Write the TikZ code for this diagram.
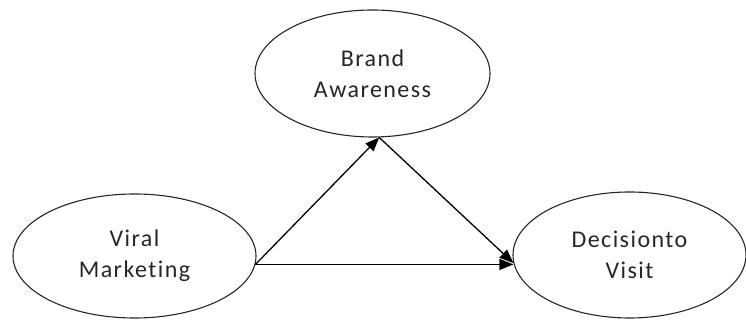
\documentclass[tikz,border=0pt]{standalone}
\usepackage{fontspec}
\setmainfont[Ligatures=NoCommon,LetterSpace=6]{Carlito}
\usetikzlibrary{shapes.geometric,arrows.meta}
\begin{document}
\begin{tikzpicture}[x=1pt,y=1pt,
  oval/.style={ellipse,draw=black!85,line width=1.1pt,inner sep=0pt,align=center,
    font=\fontsize{24}{31}\selectfont,text=black!85},
  link/.style={line width=1.3pt,-{Triangle[length=14pt,width=11pt]}},
  plain/.style={line width=1.3pt}]
\useasboundingbox (0,0) rectangle (746,320);
\node[oval,minimum width=243pt,minimum height=124pt] (viral) at (134.5,64) {Viral\\Marketing};
\node[oval,minimum width=235pt,minimum height=127pt] (brand) at (372.5,246.5) {Brand\\Awareness};
\node[oval,minimum width=233pt,minimum height=126pt] (decision) at (629.5,65) {Decisionto\\Visit};
\coordinate (vs) at (viral.-4.3);
\coordinate (bb) at (brand.-84);
\coordinate (dl) at (decision.184.6);
\draw[link] (vs) -- (bb);
\draw[link] (bb) -- (dl);
\draw[link] (vs) -- (vs -| dl);
\end{tikzpicture}
\end{document}
